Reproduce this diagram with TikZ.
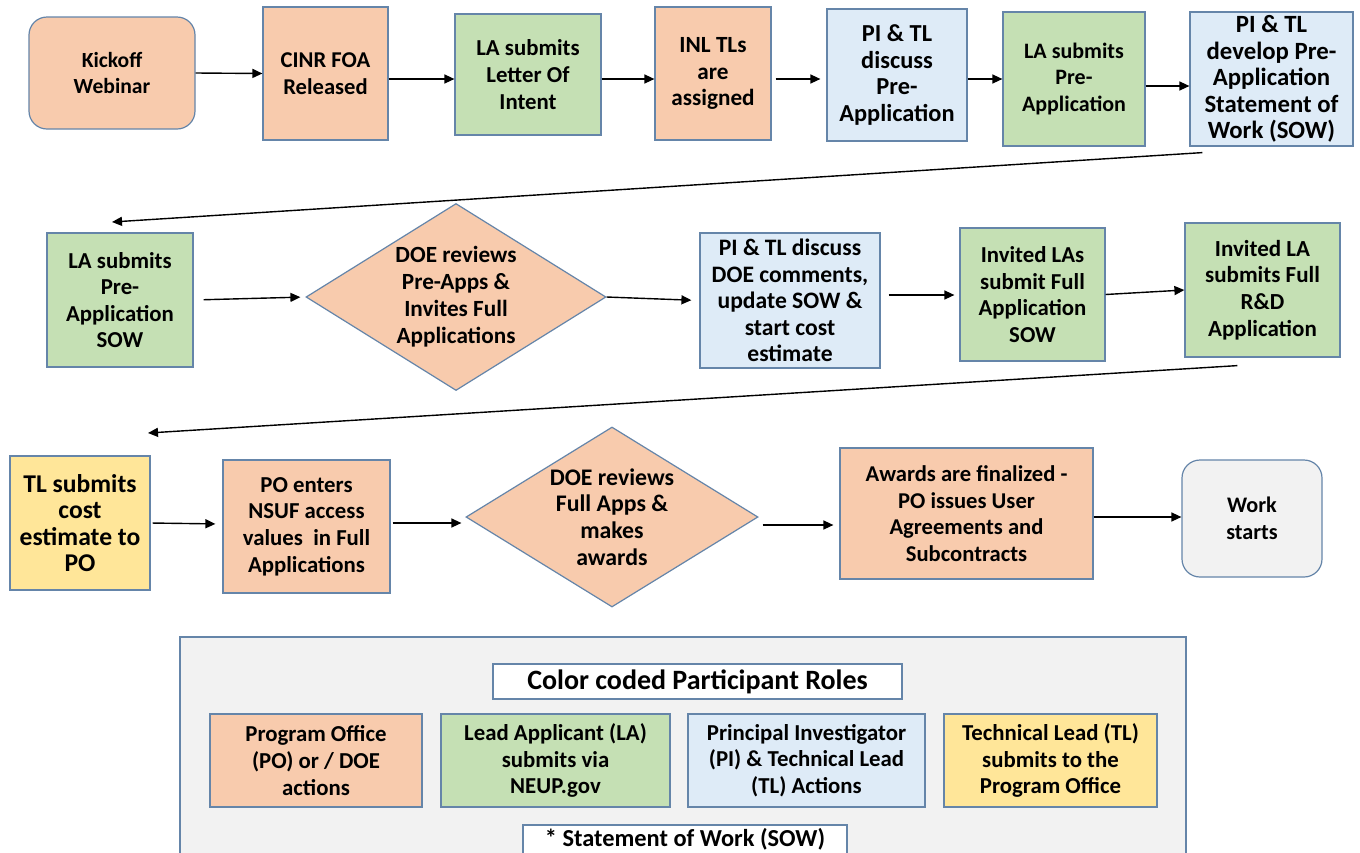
\documentclass[tikz,border=0pt]{standalone}
\usepackage{fontspec}
\setmainfont{Carlito}
\usetikzlibrary{arrows.meta,shapes.geometric}
\definecolor{cor}{HTML}{F8CBAD}
\definecolor{cgr}{HTML}{C5E0B4}
\definecolor{cbl}{HTML}{DEEBF7}
\definecolor{cye}{HTML}{FFE699}
\definecolor{cgy}{HTML}{F2F2F2}
\definecolor{cbd}{HTML}{6585A9}
\tikzset{
  wh/.style 2 args={minimum width={#1*0.5pt}, minimum height={#2*0.5pt}},
  fs/.style={font=\fontsize{#1}{13.3}\selectfont\bfseries},
  box/.style={draw=cbd, line width=0.6pt, rectangle, inner sep=1pt, align=center, fs=11.4},
  rbox/.style={box, rounded corners=9pt},
  dia/.style={draw=cbd, line width=0.6pt, diamond, inner sep=0pt, fill=cor},
  dtxt/.style={align=center, font=\fontsize{11.6}{13.5}\selectfont\bfseries},
  arr/.style={line width=0.7pt, -{Triangle[length=5pt,width=4.5pt]}},
}
\begin{document}
\begin{tikzpicture}[x=0.5pt,y=-0.5pt]
\path[use as bounding box, fill=white] (0,0) rectangle (1360,852);
% Row 1
\node[rbox, fill=cor, wh={166}{112}, fs=10.8] (k) at (112,73) {Kickoff\\Webinar};
\node[box, fill=cor, wh={125}{133}, fs=11.3] (cinr) at (325.5,73.5) {CINR FOA\\Released};
\node[box, fill=cgr, wh={146}{121}] (loi) at (528,74.5) {LA submits\\Letter Of\\Intent};
\node[box, fill=cor, wh={116}{133}, fs=11.6] (inl) at (713,73.5) {INL TLs\\are\\assigned};
\node[box, fill=cbl, wh={140}{132}, fs=12.2] (pid) at (897,75) {PI \& TL\\discuss\\Pre-\\Application};
\node[box, fill=cgr, wh={142}{134}, fs=11] (lap) at (1074,79) {LA submits\\Pre-\\Application};
\node[box, fill=cbl, wh={163}{134}, fs=12.4] (pdev) at (1271.5,79) {PI \& TL\\develop Pre-\\Application\\Statement of\\Work (SOW)};
% Row 2
\node[box, fill=cgr, wh={146}{134}] (las) at (120,300) {LA submits\\Pre-\\Application\\SOW};
\node[dia, wh={300}{187}, label={[dtxt]center:{DOE reviews\\Pre-Apps \&\\Invites Full\\Applications}}] (d1) at (456,297) {};
\node[box, fill=cbl, wh={180}{135}, fs=11.8] (pid2) at (790,300.5) {PI \& TL discuss\\DOE comments,\\update SOW \&\\start cost\\estimate};
\node[box, fill=cgr, wh={145}{133}] (ilas) at (1032.5,294.5) {Invited LAs\\submit Full\\Application\\SOW};
\node[box, fill=cgr, wh={155}{134}, fs=11.5] (ila) at (1262.5,290) {Invited LA\\submits Full\\R\&D\\Application};
% Row 3
\node[box, fill=cye, wh={140}{134}, fs=12.8] (tl) at (80,523) {TL submits\\cost\\estimate to\\PO};
\node[box, fill=cor, wh={167}{133}] (po) at (306.5,526.5) {PO enters\\NSUF access\\values\ \ in Full\\Applications};
\node[dia, wh={292}{180}, label={[dtxt, font=\fontsize{11.9}{13.3}\selectfont\bfseries]center:{DOE reviews\\Full Apps \&\\makes\\awards}}] (d2) at (612,517) {};
\node[box, fill=cor, wh={253}{131}, fs=11.3] (aw) at (966.5,513.5) {Awards are finalized -\\PO issues User\\Agreements and\\Subcontracts};
\node[rbox, fill=cgy, wh={140}{117}, fs=11.1] (ws) at (1252,518.5) {Work\\starts};
% connectors row 1
\draw[arr] (k.east) -- (cinr.west);
\draw[arr] (cinr.east |- 0,79) -- (loi.west |- 0,79);
\draw[arr] (loi.east |- 0,79) -- (inl.west |- 0,79);
\draw[arr, shorten <=2pt, shorten >=3pt] (inl.east |- 0,79) -- (pid.west |- 0,79);
\draw[arr] (pid.east |- 0,79) -- (lap.west |- 0,79);
\draw[arr] (lap.east |- 0,86) -- (pdev.west |- 0,86);
\coordinate (c1e) at (112,222);
\draw[arr] ([shift={(13,6)}]pdev.south west) -- (c1e);
% row 2
\draw[arr, shorten <=5pt, shorten >=2.5pt] (las.east) -- (d1.west);
\draw[arr, shorten >=4pt] (d1.east) -- (pid2.west);
\draw[arr, shorten <=4pt, shorten >=2.5pt] (pid2.east |- 0,295) -- (ilas.west |- 0,295);
\draw[arr] (ilas.east) -- (ila.west);
\coordinate (c2e) at (148,433);
\draw[arr] ([shift={(53,8)}]ila.south west) -- (c2e);
% row 3
\draw[arr, shorten <=1pt, shorten >=3.5pt] (tl.east) -- (po.west |- 0,524);
\draw[arr, shorten <=1pt, shorten >=2pt] (po.east |- 0,523) -- (d2.west |- 0,523);
\draw[arr, shorten <=2pt, shorten >=3pt] (d2.east |- 0,525) -- (aw.west |- 0,525);
\draw[arr] (aw.east |- 0,517) -- (ws.west |- 0,517);
% legend
\node[draw=cbd, line width=0.6pt, fill=cgy, wh={1006}{225}, inner sep=0pt] (lg) at (683,749.5) {};
\node[box, fill=white, wh={409}{35}, font=\fontsize{14}{16}\selectfont\bfseries] (ttl) at (697.5,681.5) {Color coded Participant Roles};
\node[box, fill=cor, wh={212}{93}] (r1) at (316,760.5) {Program Office\\(PO) or / DOE\\actions};
\node[box, fill=cgr, wh={229}{93}] (r2) at (555.5,760.5) {Lead Applicant (LA)\\submits via\\NEUP.gov};
\node[box, fill=cbl, wh={237}{93}] (r3) at (806.5,760.5) {Principal Investigator\\(PI) \& Technical Lead\\(TL) Actions};
\node[box, fill=cye, wh={213}{93}] (r4) at (1050.5,760.5) {Technical Lead (TL)\\submits to the\\Program Office};
\node[box, fill=white, wh={324}{36}, label={[dtxt, font=\fontsize{12.2}{14}\selectfont\bfseries, yshift=2pt]center:{* Statement of Work (SOW)}}] (sow) at (685,843) {};
\end{tikzpicture}
\end{document}
